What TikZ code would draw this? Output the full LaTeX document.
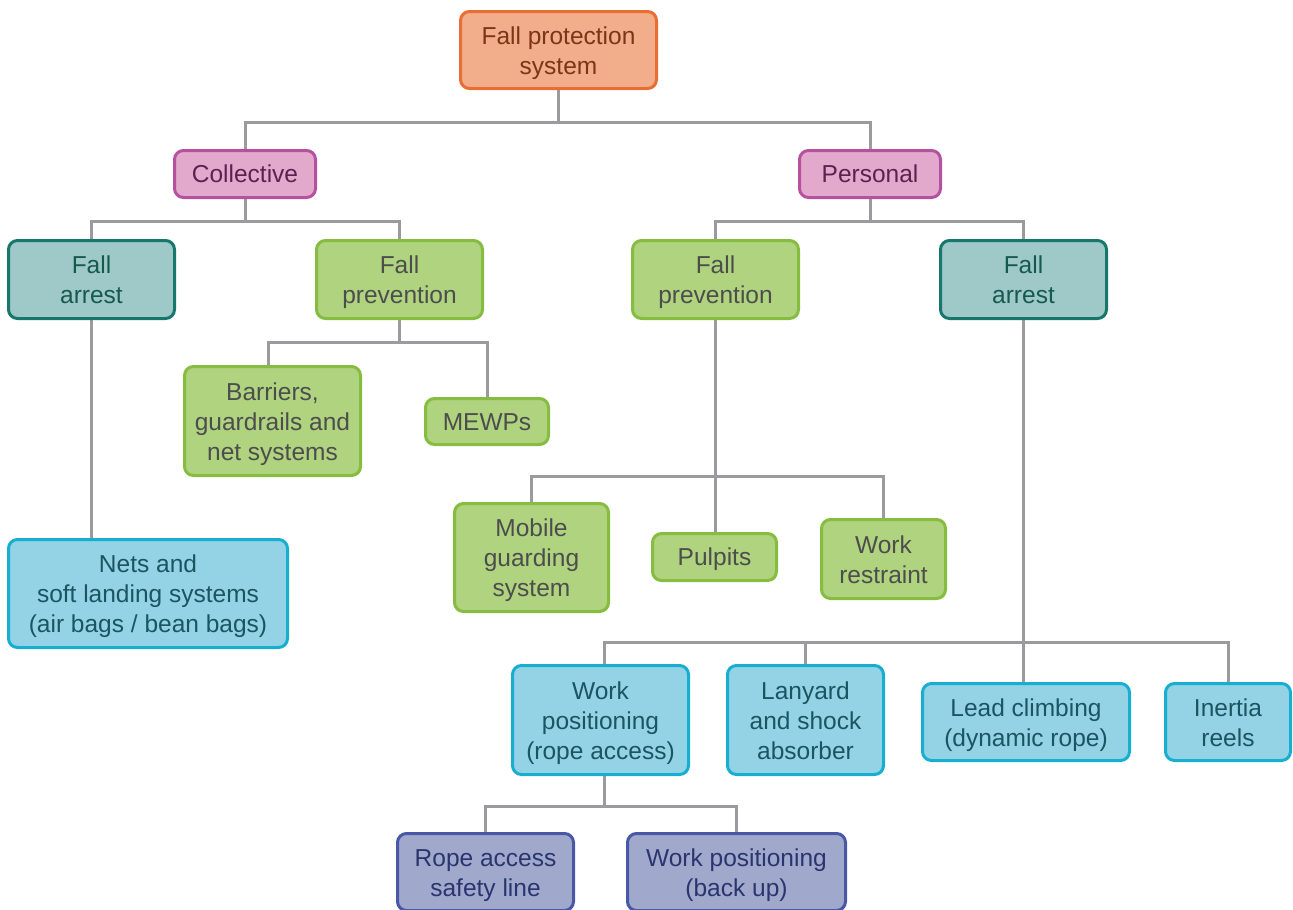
\documentclass[tikz,border=0pt]{standalone}
\usepackage{fontspec}
\setmainfont{Liberation Sans}
\usetikzlibrary{backgrounds,calc}
\definecolor{orFill}{HTML}{F2AE8A}\definecolor{orLine}{HTML}{E86E34}\definecolor{orText}{HTML}{7B3518}
\definecolor{pkFill}{HTML}{E3A9CC}\definecolor{pkLine}{HTML}{B5519E}\definecolor{pkText}{HTML}{5C2150}
\definecolor{tlFill}{HTML}{9FC9C9}\definecolor{tlLine}{HTML}{16776A}\definecolor{tlText}{HTML}{165A4E}
\definecolor{grFill}{HTML}{AFD37F}\definecolor{grLine}{HTML}{86BC40}\definecolor{grText}{HTML}{4D4D4D}
\definecolor{cyFill}{HTML}{93D3E5}\definecolor{cyLine}{HTML}{17AED0}\definecolor{cyText}{HTML}{1B5562}
\definecolor{puFill}{HTML}{A0A9CB}\definecolor{puLine}{HTML}{4858A6}\definecolor{puText}{HTML}{2A3570}
\definecolor{conn}{HTML}{9B9B9F}
\newcommand{\mystrut}{\rule[-5.2pt]{0pt}{5.2pt}}
\newcommand{\fl}{\rule{0pt}{24pt}}
\newcommand{\sgl}{\rule{0pt}{22.5pt}}
\tikzset{
  box/.style={draw, line width=3pt, rounded corners=9pt, align=center, inner sep=0pt,
    font=\fontsize{24.5}{30}\selectfont, execute at end node=\mystrut},
  orbox/.style={box, fill=orFill, draw=orLine, text=orText},
  pkbox/.style={box, fill=pkFill, draw=pkLine, text=pkText},
  tlbox/.style={box, fill=tlFill, draw=tlLine, text=tlText},
  grbox/.style={box, fill=grFill, draw=grLine, text=grText},
  cybox/.style={box, fill=cyFill, draw=cyLine, text=cyText},
  pubox/.style={box, fill=puFill, draw=puLine, text=puText},
  sz/.style 2 args={minimum width=#1pt, minimum height=#2pt},
  link/.style={draw=conn, line width=3pt}
}
\begin{document}
\begin{tikzpicture}[x=1pt, y=-1pt]
\useasboundingbox (0,0) rectangle (1293,910);
\node[orbox, sz={196}{77}] (top) at (558.5,50) {\fl Fall protection\\system};
\node[pkbox, sz={141}{47}] (coll) at (245,174) {\sgl Collective};
\node[pkbox, sz={141}{47}] (pers) at (870,174) {\sgl Personal};
\node[tlbox, sz={166}{78}] (fal) at (91.5,279.5) {\fl Fall\\arrest};
\node[grbox, sz={166}{78}] (fpl) at (399.5,279.5) {\fl Fall\\prevention};
\node[grbox, sz={166}{78}] (fpr) at (715.5,279.5) {\fl Fall\\prevention};
\node[tlbox, sz={166}{78}] (far) at (1023.5,279.5) {\fl Fall\\arrest};
\node[grbox, sz={176}{109}] (barr) at (272.5,421) {\fl Barriers,\\guardrails and\\net systems};
\node[grbox, sz={123}{46}] (mewp) at (487,421.5) {\sgl MEWPs};
\node[cybox, sz={279}{108}] (nets) at (148,593.5) {\fl Nets and\\soft landing systems\\(air bags / bean bags)};
\node[grbox, sz={154}{108}] (mob) at (531.5,557.5) {\fl Mobile\\guarding\\system};
\node[grbox, sz={124}{47}] (pulp) at (714.5,557) {\sgl Pulpits};
\node[grbox, sz={124}{79}] (wres) at (883.5,559) {\fl Work\\restraint};
\node[cybox, sz={176}{109}] (wpos) at (600.5,720) {\fl Work\\positioning\\(rope access)};
\node[cybox, sz={156}{109}] (lany) at (805.5,720) {\fl Lanyard\\and shock\\absorber};
\node[cybox, sz={207}{77}] (lead) at (1026,722) {\fl Lead climbing\\(dynamic rope)};
\node[cybox, sz={125}{77}] (iner) at (1228,722) {\fl Inertia\\reels};
\node[pubox, sz={176}{77}] (rope) at (485.5,872) {\fl Rope access\\safety line};
\node[pubox, sz={218}{77}] (wpb) at (736.5,872) {\fl Work positioning\\(back up)};
\coordinate (j1) at (558.5,122);
\coordinate (j2) at (245,221);
\coordinate (j3) at (870,221);
\coordinate (j4) at (399.5,342);
\coordinate (j5) at (715,476);
\coordinate (j6) at (1022,642);
\coordinate (j7) at (604,806);
\begin{scope}[on background layer]
\draw[link] (top.south) -- (j1);
\draw[link] (coll.north) |- (j1) -| (pers.north);
\draw[link] (coll.south) -- (j2);
\draw[link] (fal.north) |- (j2) -| (fpl.north);
\draw[link] (pers.south) -- (j3);
\draw[link] (fpr.north) |- (j3) -| (far.north);
\draw[link] (fal.south) -- (fal.south |- nets.north);
\draw[link] (fpl.south) -- (j4);
\draw[link] ($(barr.north)+(-4.5,0)$) |- (j4) -| (mewp.north);
\draw[link] (fpr.south) -- (fpr.south |- pulp.north);
\draw[link] (mob.north) |- (j5) -| (wres.north);
\draw[link] (far.south) -- (far.south |- lead.north);
\draw[link] ($(wpos.north)+(3.5,0)$) |- (j6) -| (iner.north);
\draw[link] (j6 -| lany.north) -- (lany.north);
\draw[link] ($(wpos.south)+(3.5,0)$) -- (j7);
\draw[link] (rope.north) |- (j7) -| (wpb.north);
\end{scope}
\end{tikzpicture}
\end{document}
